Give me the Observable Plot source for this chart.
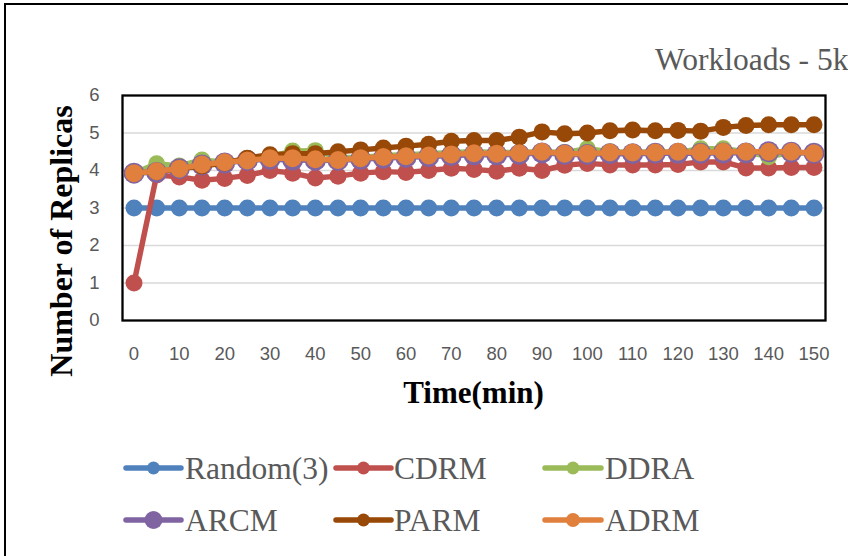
<!DOCTYPE html>
<html>
<head>
<meta charset="utf-8">
<script src="https://cdn.jsdelivr.net/npm/d3@7"></script>
<script src="https://cdn.jsdelivr.net/npm/@observablehq/plot@0.6"></script>
<style>
  html, body { margin: 0; padding: 0; background: #fff; overflow: hidden; }
  #wrap { position: relative; width: 848px; height: 556px; overflow: hidden; }
  #border { position: absolute; left: 4px; top: 3px; width: 1000px; height: 1000px; border: 2px solid #000; box-sizing: border-box; }
  #wrap svg { position: absolute; left: 0; top: 0; }
</style>
</head>
<body>
<div id="wrap"><div id="border"></div></div>
<script>
// ---- data ----
const times = [0,5,10,15,20,25,30,35,40,45,50,55,60,65,70,75,80,85,90,95,100,105,110,115,120,125,130,135,140,145,150];
const random3 = [3,3,3,3,3,3,3,3,3,3,3,3,3,3,3,3,3,3,3,3,3,3,3,3,3,3,3,3,3,3,3];
const cdrm = [1.0,3.88,3.83,3.74,3.79,3.87,4.0,3.93,3.8,3.85,3.93,3.97,3.95,4.0,4.06,4.03,3.98,4.06,4.0,4.14,4.19,4.15,4.15,4.15,4.16,4.23,4.23,4.07,4.07,4.08,4.08];
const ddra = [3.93,4.18,4.12,4.28,4.22,4.28,4.36,4.52,4.53,4.35,4.35,4.4,4.42,4.45,4.48,4.5,4.48,4.48,4.5,4.48,4.58,4.5,4.48,4.5,4.48,4.58,4.58,4.5,4.37,4.48,4.46];
const arcm = [3.93,3.95,4.05,4.15,4.2,4.27,4.3,4.28,4.27,4.27,4.3,4.33,4.35,4.37,4.4,4.42,4.42,4.43,4.47,4.43,4.43,4.45,4.45,4.46,4.46,4.46,4.47,4.47,4.5,4.49,4.46];
const parm = [3.93,3.97,4.05,4.12,4.2,4.33,4.42,4.45,4.45,4.5,4.55,4.6,4.65,4.7,4.78,4.8,4.8,4.89,5.03,4.98,5.0,5.06,5.08,5.06,5.07,5.05,5.15,5.2,5.22,5.22,5.22];
const adrm = [3.93,3.98,4.05,4.16,4.22,4.27,4.33,4.33,4.3,4.28,4.33,4.36,4.38,4.4,4.43,4.46,4.45,4.46,4.5,4.45,4.45,4.48,4.48,4.48,4.5,4.48,4.5,4.5,4.5,4.5,4.46];
const seriesNames = ["Random(3)","CDRM","DDRA","ARCM","PARM","ADRM"];
const xTicks = [0,10,20,30,40,50,60,70,80,90,100,110,120,130,140,150];
const yTicks = [0,1,2,3,4,5,6];
const gridValues = [1,2,3,4,5];
const titleText = "Workloads - 5k";
const xTitle = "Time(min)";
const yTitle = "Number of Replicas";

// ---- styling ----
const colors = ["#4f81bd","#c0504d","#9bbb59","#8064a2","#984807","#e0803c"];
const radii = [8.5,8.5,8.5,10.5,8.5,9];
const valueArrays = [random3, cdrm, ddra, arcm, parm, adrm];

const series = seriesNames.map((name,k) => ({
  name, color: colors[k], r: radii[k],
  data: valueArrays[k].map((v,i) => ({t: times[i], v}))
}));

const seriesMarks = series.flatMap(s => [
  Plot.line(s.data, {x: "t", y: "v", stroke: s.color, strokeWidth: 5.5, strokeLinejoin: "round", strokeLinecap: "round"}),
  Plot.dot(s.data, {x: "t", y: "v", r: s.r, fill: s.color, stroke: "none"})
]);

const chart = Plot.plot({
  width: 848,
  height: 556,
  marginLeft: 122,
  marginRight: 23,
  marginTop: 95,
  marginBottom: 236,
  x: {type: "linear", domain: [0,150], insetLeft: 11.5, insetRight: 11.5, ticks: xTicks, tickSize: 0, tickPadding: 26, label: null, tickFormat: d => String(d)},
  y: {domain: [0,6], ticks: yTicks, tickSize: 0, tickPadding: 23, label: null, tickFormat: d => String(d)},
  style: {background: "transparent", fontFamily: "'Liberation Sans', Arial, sans-serif", fontSize: "18.5px", color: "#595959", overflow: "visible"},
  marks: [
    Plot.ruleY(gridValues, {stroke: "#d9d9d9", strokeWidth: 1.3}),
    Plot.frame({stroke: "#000", strokeWidth: 2.3}),
    ...seriesMarks
  ]
});
const wrap = document.getElementById("wrap");
wrap.appendChild(chart);

// ---- overlay: title, axis titles, legend ----
const ov = d3.select(wrap).append("svg")
  .attr("width", 848).attr("height", 556)
  .style("pointer-events", "none");

ov.append("text").attr("x", 655).attr("y", 70)
  .attr("font-family", "'Liberation Serif', 'Times New Roman', serif")
  .attr("font-size", 31.5).attr("fill", "#595959").text(titleText);

ov.append("text").attr("x", 473.5).attr("y", 403)
  .attr("text-anchor", "middle")
  .attr("font-family", "'Liberation Serif', 'Times New Roman', serif")
  .attr("font-weight", "bold").attr("font-size", 31).attr("fill", "#000").text(xTitle);

ov.append("text").attr("transform", "translate(72,241) rotate(-90)")
  .attr("text-anchor", "middle")
  .attr("font-family", "'Liberation Serif', 'Times New Roman', serif")
  .attr("font-weight", "bold").attr("font-size", 32).attr("fill", "#000").text(yTitle);

const legendPos = [
  {x1: 126, x2: 181, tx: 185, y: 468, ty: 479},
  {x1: 336, x2: 391, tx: 394, y: 468, ty: 479},
  {x1: 545, x2: 601, tx: 605, y: 468, ty: 479},
  {x1: 126, x2: 181, tx: 185, y: 520, ty: 531},
  {x1: 336, x2: 391, tx: 394, y: 520, ty: 531},
  {x1: 545, x2: 601, tx: 605, y: 520, ty: 531}
];
const legendR = [6.5,6.5,6.5,9,6.5,7];
series.forEach((s,k) => {
  const p = legendPos[k];
  const g = ov.append("g");
  g.append("line").attr("x1", p.x1).attr("x2", p.x2).attr("y1", p.y).attr("y2", p.y)
    .attr("stroke", s.color).attr("stroke-width", 5.5).attr("stroke-linecap", "round");
  g.append("circle").attr("cx", (p.x1 + p.x2) / 2).attr("cy", p.y).attr("r", legendR[k]).attr("fill", s.color);
  g.append("text").attr("x", p.tx).attr("y", p.ty)
    .attr("font-family", "'Liberation Serif', 'Times New Roman', serif")
    .attr("font-size", 31.5).attr("fill", "#595959").text(s.name);
});
</script>
</body>
</html>
